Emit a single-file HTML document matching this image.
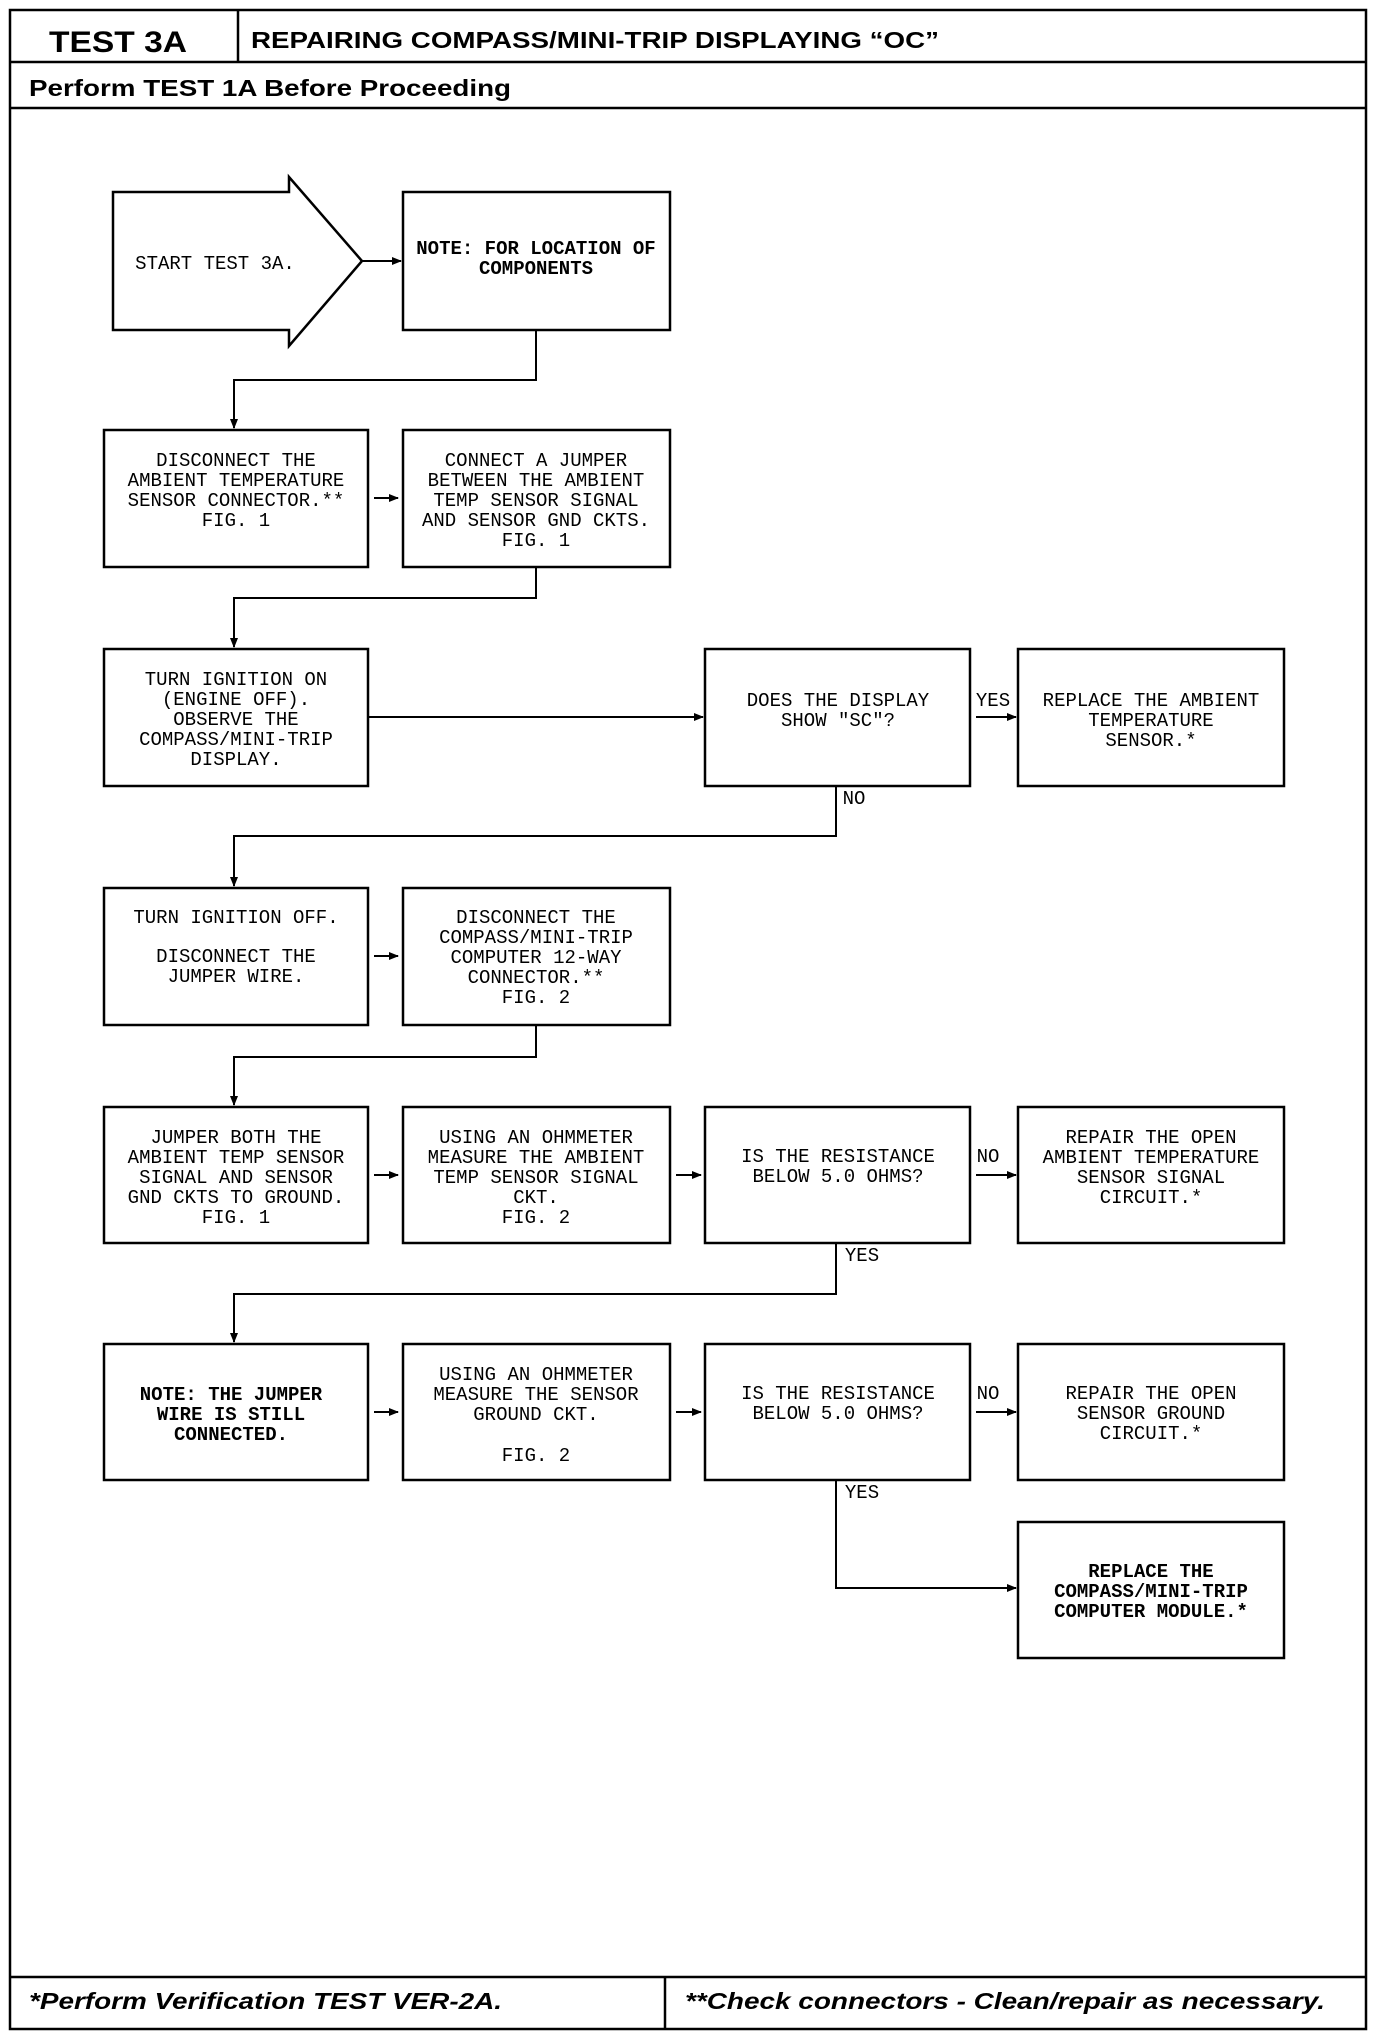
<!DOCTYPE html>
<html><head><meta charset="utf-8"><style>
html,body{margin:0;padding:0;background:#fff;}
svg{display:block;}
.t{font-family:"Liberation Mono",monospace;font-size:19px;fill:#000;text-anchor:middle;}
.b{font-weight:bold;}
</style></head><body>
<svg width="1376" height="2038" viewBox="0 0 1376 2038" xmlns="http://www.w3.org/2000/svg">
<defs><marker id="a" markerWidth="10" markerHeight="10" refX="9" refY="5" orient="auto" markerUnits="userSpaceOnUse"><path d="M0,1 L10,5 L0,9 z" fill="#000"/></marker></defs>
<g fill="none" stroke="#000" stroke-width="2.5">
<rect x="10" y="10" width="1356" height="2019"/>
<line x1="10" y1="62" x2="1366" y2="62"/>
<line x1="238" y1="10" x2="238" y2="62"/>
<line x1="10" y1="108" x2="1366" y2="108"/>
<line x1="10" y1="1977" x2="1366" y2="1977"/>
<line x1="665" y1="1977" x2="665" y2="2029"/>
<!-- start arrow -->
<path d="M113,192 L289,192 L289,177 L362,261 L289,346 L289,330 L113,330 z"/>
<rect x="403" y="192" width="267" height="138"/>
<rect x="104" y="430" width="264" height="137"/>
<rect x="403" y="430" width="267" height="137"/>
<rect x="104" y="649" width="264" height="137"/>
<rect x="705" y="649" width="265" height="137"/>
<rect x="1018" y="649" width="266" height="137"/>
<rect x="104" y="888" width="264" height="137"/>
<rect x="403" y="888" width="267" height="137"/>
<rect x="104" y="1107" width="264" height="136"/>
<rect x="403" y="1107" width="267" height="136"/>
<rect x="705" y="1107" width="265" height="136"/>
<rect x="1018" y="1107" width="266" height="136"/>
<rect x="104" y="1344" width="264" height="136"/>
<rect x="403" y="1344" width="267" height="136"/>
<rect x="705" y="1344" width="265" height="136"/>
<rect x="1018" y="1344" width="266" height="136"/>
<rect x="1018" y="1522" width="266" height="136"/>
</g>
<g fill="none" stroke="#000" stroke-width="2">
<line x1="362" y1="261" x2="401" y2="261" marker-end="url(#a)"/>
<path d="M536,330 V380 H234 V428" marker-end="url(#a)"/>
<line x1="374" y1="498" x2="398" y2="498" marker-end="url(#a)"/>
<path d="M536,567 V598 H234 V647" marker-end="url(#a)"/>
<line x1="368" y1="717" x2="703" y2="717" marker-end="url(#a)"/>
<line x1="976" y1="717" x2="1016" y2="717" marker-end="url(#a)"/>
<path d="M836,786 V836 H234 V886" marker-end="url(#a)"/>
<line x1="374" y1="956" x2="398" y2="956" marker-end="url(#a)"/>
<path d="M536,1025 V1057 H234 V1105" marker-end="url(#a)"/>
<line x1="374" y1="1175" x2="398" y2="1175" marker-end="url(#a)"/>
<line x1="676" y1="1175" x2="701" y2="1175" marker-end="url(#a)"/>
<line x1="976" y1="1175" x2="1016" y2="1175" marker-end="url(#a)"/>
<path d="M836,1243 V1294 H234 V1342" marker-end="url(#a)"/>
<line x1="374" y1="1412" x2="398" y2="1412" marker-end="url(#a)"/>
<line x1="676" y1="1412" x2="701" y2="1412" marker-end="url(#a)"/>
<line x1="976" y1="1412" x2="1016" y2="1412" marker-end="url(#a)"/>
<path d="M836,1480 V1588 H1016" marker-end="url(#a)"/>
</g>
<g font-family="Liberation Sans, sans-serif" font-weight="bold" fill="#000">
<text x="49" y="52" font-size="30" textLength="138" lengthAdjust="spacingAndGlyphs">TEST 3A</text>
<text x="251" y="48" font-size="23" textLength="688" lengthAdjust="spacingAndGlyphs">REPAIRING COMPASS/MINI-TRIP DISPLAYING “OC”</text>
<text x="29" y="96" font-size="23" textLength="482" lengthAdjust="spacingAndGlyphs">Perform TEST 1A Before Proceeding</text>
<text x="29" y="2009" font-size="23" font-style="italic" textLength="473" lengthAdjust="spacingAndGlyphs">*Perform Verification TEST VER-2A.</text>
<text x="685" y="2009" font-size="23" font-style="italic" textLength="640" lengthAdjust="spacingAndGlyphs">**Check connectors - Clean/repair as necessary.</text>
</g>
<g class="t">
<text x="215" y="269">START TEST 3A.</text>
<text class="b" x="536" y="254">NOTE: FOR LOCATION OF<tspan x="536" dy="20">COMPONENTS</tspan></text>
<text x="236" y="466">DISCONNECT THE<tspan x="236" dy="20">AMBIENT TEMPERATURE</tspan><tspan x="236" dy="20">SENSOR CONNECTOR.**</tspan><tspan x="236" dy="20">FIG. 1</tspan></text>
<text x="536" y="466">CONNECT A JUMPER<tspan x="536" dy="20">BETWEEN THE AMBIENT</tspan><tspan x="536" dy="20">TEMP SENSOR SIGNAL</tspan><tspan x="536" dy="20">AND SENSOR GND CKTS.</tspan><tspan x="536" dy="20">FIG. 1</tspan></text>
<text x="236" y="685">TURN IGNITION ON<tspan x="236" dy="20">(ENGINE OFF).</tspan><tspan x="236" dy="20">OBSERVE THE</tspan><tspan x="236" dy="20">COMPASS/MINI-TRIP</tspan><tspan x="236" dy="20">DISPLAY.</tspan></text>
<text x="838" y="706">DOES THE DISPLAY<tspan x="838" dy="20">SHOW "SC"?</tspan></text>
<text x="1151" y="706">REPLACE THE AMBIENT<tspan x="1151" dy="20">TEMPERATURE</tspan><tspan x="1151" dy="20">SENSOR.*</tspan></text>
<text x="993" y="706">YES</text>
<text x="854" y="804">NO</text>
<text x="236" y="923">TURN IGNITION OFF.<tspan x="236" dy="39">DISCONNECT THE</tspan><tspan x="236" dy="20">JUMPER WIRE.</tspan></text>
<text x="536" y="923">DISCONNECT THE<tspan x="536" dy="20">COMPASS/MINI-TRIP</tspan><tspan x="536" dy="20">COMPUTER 12-WAY</tspan><tspan x="536" dy="20">CONNECTOR.**</tspan><tspan x="536" dy="20">FIG. 2</tspan></text>
<text x="236" y="1143">JUMPER BOTH THE<tspan x="236" dy="20">AMBIENT TEMP SENSOR</tspan><tspan x="236" dy="20">SIGNAL AND SENSOR</tspan><tspan x="236" dy="20">GND CKTS TO GROUND.</tspan><tspan x="236" dy="20">FIG. 1</tspan></text>
<text x="536" y="1143">USING AN OHMMETER<tspan x="536" dy="20">MEASURE THE AMBIENT</tspan><tspan x="536" dy="20">TEMP SENSOR SIGNAL</tspan><tspan x="536" dy="20">CKT.</tspan><tspan x="536" dy="20">FIG. 2</tspan></text>
<text x="838" y="1162">IS THE RESISTANCE<tspan x="838" dy="20">BELOW 5.0 OHMS?</tspan></text>
<text x="1151" y="1143">REPAIR THE OPEN<tspan x="1151" dy="20">AMBIENT TEMPERATURE</tspan><tspan x="1151" dy="20">SENSOR SIGNAL</tspan><tspan x="1151" dy="20">CIRCUIT.*</tspan></text>
<text x="988" y="1162">NO</text>
<text x="862" y="1261">YES</text>
<text class="b" x="231" y="1400">NOTE: THE JUMPER<tspan x="231" dy="20">WIRE IS STILL</tspan><tspan x="231" dy="20">CONNECTED.</tspan></text>
<text x="536" y="1380">USING AN OHMMETER<tspan x="536" dy="20">MEASURE THE SENSOR</tspan><tspan x="536" dy="20">GROUND CKT.</tspan><tspan x="536" dy="41">FIG. 2</tspan></text>
<text x="838" y="1399">IS THE RESISTANCE<tspan x="838" dy="20">BELOW 5.0 OHMS?</tspan></text>
<text x="1151" y="1399">REPAIR THE OPEN<tspan x="1151" dy="20">SENSOR GROUND</tspan><tspan x="1151" dy="20">CIRCUIT.*</tspan></text>
<text x="988" y="1399">NO</text>
<text x="862" y="1498">YES</text>
<text class="b" x="1151" y="1577">REPLACE THE<tspan x="1151" dy="20">COMPASS/MINI-TRIP</tspan><tspan x="1151" dy="20">COMPUTER MODULE.*</tspan></text>
</g>
</svg>
</body></html>
